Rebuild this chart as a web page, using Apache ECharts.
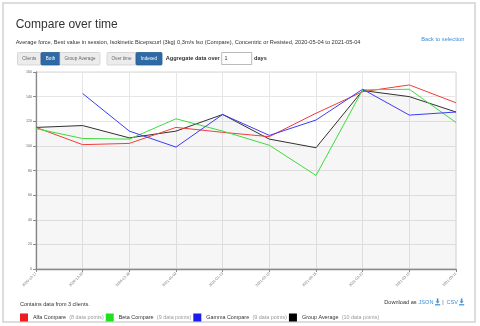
<!DOCTYPE html>
<html>
<head>
<meta charset="utf-8">
<script src="https://cdn.jsdelivr.net/npm/echarts@6/dist/echarts.min.js"></script>
<style>
html,body{margin:0;padding:0;background:#fff;}
#chart{width:480px;height:326px;}
</style>
</head>
<body>
<div id="chart"></div>
<script>
var categories = ['2020-12-17','2020-12-20','2020-12-28','2021-01-03','2021-01-13','2021-02-10','2021-02-15','2021-02-22','2021-03-10','2021-03-11'];
var alfa  = [115, 101, 102, 115, 111, 107.5, 126.5, 144, 149.5, 135];
var beta  = [114, 106, 105.5, 122, 112, 100.5, 76, 145.5, 146, 119];
var gamma = [null, 142.5, 112, 99, 125.5, 108.5, 121, 146, 125, 127.5];
var groupAvg = [115, 116.5, 106.5, 112, 125.5, 105.5, 98.5, 145, 140, 127.5];
var seriesNames = ['Alfa Compare', 'Beta Compare', 'Gamma Compare', 'Group Average'];
var pointCounts = [8, 9, 9, 10];
var yTicks = [0, 20, 40, 60, 80, 100, 120, 140, 160];

var FONT = '"Liberation Sans", Arial, sans-serif';
var BLUE = '#3d8fd6';
var chart = echarts.init(document.getElementById('chart'), null, {renderer: 'canvas'});

function btn(x, w, label, active) {
  return [{
    type: 'rect', shape: {x: x, y: 52.5, width: w, height: 12.5, r: 1},
    style: {fill: active ? '#2d6aa6' : '#ececec', stroke: active ? '#285e92' : '#cfcfcf', lineWidth: 0.8}
  }, {
    type: 'text', x: x + w / 2, y: 58.8,
    style: {text: label, fill: active ? '#fff' : '#666', font: '4.6px ' + FONT, textAlign: 'center', textVerticalAlign: 'middle'}
  }];
}

function dlIcon(x) {
  // small "download" glyph: arrow onto a tray
  return [
    {type: 'rect', shape: {x: x + 1.8, y: 298.5, width: 1.6, height: 3}, style: {fill: BLUE}},
    {type: 'polygon', shape: {points: [[x + 0.6, 301.3], [x + 4.6, 301.3], [x + 2.6, 303.6]]}, style: {fill: BLUE}},
    {type: 'rect', shape: {x: x, y: 304.2, width: 5.2, height: 1.2}, style: {fill: BLUE}}
  ];
}

var graphics = [
  {type: 'rect', shape: {x: 3, y: 3, width: 472, height: 319}, style: {fill: 'none', stroke: '#d2d2d2', lineWidth: 1.5}},
  {type: 'text', x: 15.7, y: 24.5, style: {text: 'Compare over time', fill: '#333', font: '12px ' + FONT, textVerticalAlign: 'middle'}},
  {type: 'text', x: 15.7, y: 42.7, style: {text: 'Average force, Best value in session, Isokinetic Bicepscurl (3kg) 0,3m/s Iso (Compare), Concentric or Resisted, 2020-05-04 to 2021-05-04', fill: '#333', font: '5.65px ' + FONT, textVerticalAlign: 'middle'}},
  {type: 'text', x: 464.3, y: 39, style: {text: 'Back to selection', fill: BLUE, font: '5.7px ' + FONT, textAlign: 'right', textVerticalAlign: 'middle'}},
  {type: 'text', x: 165.7, y: 58.7, style: {text: 'Aggregate data over', fill: '#333', font: 'bold 5.6px ' + FONT, textVerticalAlign: 'middle'}},
  {type: 'rect', shape: {x: 221.7, y: 52.5, width: 30, height: 12}, style: {fill: '#fff', stroke: '#aaa', lineWidth: 0.8}},
  {type: 'text', x: 224.5, y: 58.7, style: {text: '1', fill: '#333', font: '5.4px ' + FONT, textVerticalAlign: 'middle'}},
  {type: 'text', x: 254, y: 58.7, style: {text: 'days', fill: '#333', font: 'bold 5.6px ' + FONT, textVerticalAlign: 'middle'}},
  {type: 'text', x: 20, y: 304.3, style: {text: 'Contains data from 3 clients.', fill: '#333', font: '5.5px ' + FONT, textVerticalAlign: 'middle'}},
  {type: 'text', x: 384.3, y: 302.3, style: {text: 'Download as', fill: '#333', font: '5.6px ' + FONT, textVerticalAlign: 'middle'}},
  {type: 'text', x: 418.5, y: 302.3, style: {text: 'JSON', fill: BLUE, font: '5.6px ' + FONT, textVerticalAlign: 'middle'}},
  {type: 'text', x: 442.2, y: 302.3, style: {text: '|', fill: '#555', font: '5.6px ' + FONT, textVerticalAlign: 'middle'}},
  {type: 'text', x: 446.5, y: 302.3, style: {text: 'CSV', fill: BLUE, font: '5.6px ' + FONT, textVerticalAlign: 'middle'}}
];
graphics = graphics.concat(dlIcon(435), dlIcon(459),
  btn(17.5, 23.5, 'Clients', false), btn(41, 19, 'Both', true), btn(60, 40, 'Group Average', false),
  btn(107, 29, 'Over time', false), btn(136, 26, 'Indexed', true));

var colors = {'Alfa Compare': '#ee1c1c', 'Beta Compare': '#1ee01e', 'Gamma Compare': '#1c1cee', 'Group Average': '#000'};
var lineColors = {'Alfa Compare': '#f23c3c', 'Beta Compare': '#3cdc3c', 'Gamma Compare': '#3c3cf2', 'Group Average': '#303030'};
var dataMap = {'Alfa Compare': alfa, 'Beta Compare': beta, 'Gamma Compare': gamma, 'Group Average': groupAvg};

function mkSeries(name, area) {
  var s = {
    name: name, type: 'line', data: dataMap[name], showSymbol: false, symbol: 'none',
    connectNulls: false, animation: false,
    color: colors[name],
    lineStyle: {color: lineColors[name], width: 1},
    emphasis: {disabled: true}
  };
  if (area) s.areaStyle = {color: 'rgba(0,0,0,0.05)', origin: 'start'};
  return s;
}

var option = {
  animation: false,
  textStyle: {fontFamily: FONT},
  grid: {left: 36, right: 24, top: 72, bottom: 57, show: true, borderColor: '#d6d6d6', borderWidth: 1, containLabel: false},
  legend: {
    left: 20, top: 311.5, itemWidth: 8, itemHeight: 8, itemGap: 2, icon: 'rect', padding: 0,
    data: seriesNames,
    formatter: function (name) {
      var i = seriesNames.indexOf(name);
      return '{n|' + name + '} {c|(' + pointCounts[i] + ' data points)}';
    },
    textStyle: {
      rich: {
        n: {color: '#333', fontSize: 5.4, fontFamily: FONT},
        c: {color: '#9a9a9a', fontSize: 5.4, fontFamily: FONT}
      }
    },
    selectedMode: false
  },
  xAxis: {
    type: 'category', data: categories, boundaryGap: false,
    axisLine: {lineStyle: {color: '#8a8a8a', width: 1.3}},
    axisTick: {show: true, length: 3, lineStyle: {color: '#8a8a8a'}},
    axisLabel: {rotate: 45, fontSize: 3.6, color: '#666', margin: 4, interval: 0},
    splitLine: {show: true, lineStyle: {color: '#e6e6e6', width: 1}}
  },
  yAxis: {
    type: 'value', min: 0, max: yTicks[yTicks.length - 1], interval: yTicks[1] - yTicks[0],
    axisLine: {show: true, lineStyle: {color: '#8a8a8a', width: 1.3}},
    axisTick: {show: true, length: 3, lineStyle: {color: '#8a8a8a'}},
    axisLabel: {fontSize: 3.6, color: '#666', margin: 4},
    splitLine: {show: true, lineStyle: {color: '#e6e6e6', width: 1}}
  },
  series: [
    mkSeries('Group Average', true),
    mkSeries('Alfa Compare'),
    mkSeries('Beta Compare'),
    mkSeries('Gamma Compare')
  ],
  graphic: graphics
};
chart.setOption(option);
</script>
</body>
</html>
